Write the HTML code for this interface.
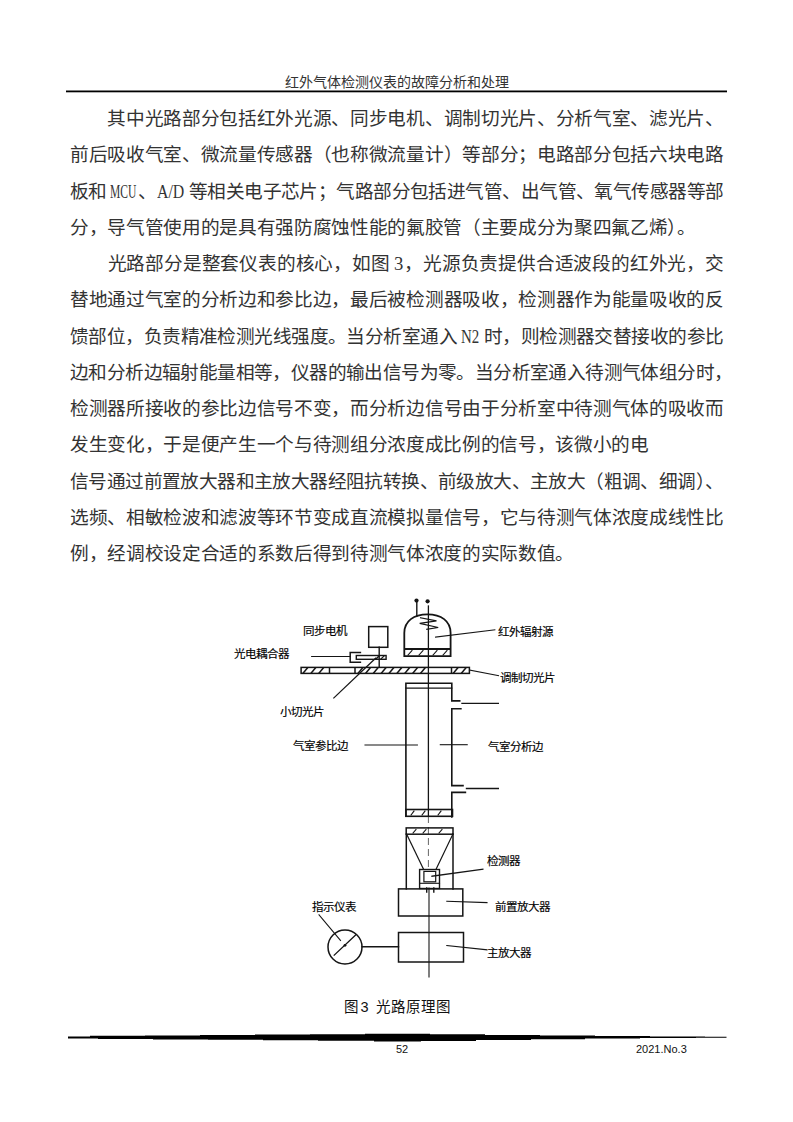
<!DOCTYPE html>
<html lang="zh-CN">
<head>
<meta charset="utf-8">
<style>
html,body{margin:0;padding:0;background:#fff;}
body{width:793px;height:1122px;position:relative;overflow:hidden;font-family:"Liberation Serif",serif;color:#111;}
.hd{position:absolute;color:#333;left:0;width:793px;top:72.5px;text-align:center;font-size:14px;line-height:20px;white-space:nowrap;}
.hl{position:absolute;left:66px;width:661px;top:90.5px;height:1.7px;background:#000;}
.ln{position:absolute;color:#333;left:70px;width:653px;font-size:18.67px;letter-spacing:-1px;line-height:24px;height:24px;white-space:nowrap;text-align:justify;text-align-last:justify;}
.ln.l{text-align:left;text-align-last:left;letter-spacing:-0.33px;}
.lat{display:inline-block;font-family:"Liberation Serif",serif;letter-spacing:0;vertical-align:baseline;text-align-last:left;}
.lat>span{display:inline-block;transform-origin:0 50%;}
.fl{position:absolute;font-size:11.5px;line-height:13px;white-space:nowrap;color:#000;-webkit-text-stroke:0.15px #000;}
.cap{position:absolute;top:998px;font-family:"Liberation Sans",sans-serif;font-size:14.5px;line-height:18px;white-space:nowrap;color:#111;}
.ft{position:absolute;font-family:"Liberation Sans",sans-serif;font-size:11px;line-height:13px;white-space:nowrap;color:#111;}
svg{position:absolute;left:0;top:0;}
</style>
</head>
<body>
<div class="hd">红外气体检测仪表的故障分析和处理</div>

<div class="ln" style="top:107.00px">　　其中光路部分包括红外光源、同步电机、调制切光片、分析气室、滤光片、</div>
<div class="ln" style="top:143.27px">前后吸收气室、微流量传感器（也称微流量计）等部分；电路部分包括六块电路</div>
<div class="ln" style="top:179.54px">板和<span class="lat" style="width:31px;padding-left:3px;box-sizing:border-box"><span style="transform:scaleX(.62)">MCU</span></span>、<span class="lat" style="width:28px"><span style="transform:scaleX(.85)">A/D</span></span> 等相关电子芯片；气路部分包括进气管、出气管、氧气传感器等部</div>
<div class="ln l" style="top:215.81px">分，导气管使用的是具有强防腐蚀性能的氟胶管（主要成分为聚四氟乙烯）。</div>
<div class="ln" style="top:252.08px">　　光路部分是整套仪表的核心，如图 <span class="lat" style="width:9.5px"><span>3</span></span>，光源负责提供合适波段的红外光，交</div>
<div class="ln" style="top:288.35px">替地通过气室的分析边和参比边，最后被检测器吸收，检测器作为能量吸收的反</div>
<div class="ln" style="top:324.62px">馈部位，负责精准检测光线强度。当分析室通入 <span class="lat" style="width:18.7px"><span style="transform:scaleX(.8)">N2</span></span> 时，则检测器交替接收的参比</div>
<div class="ln l" style="top:360.89px;letter-spacing:-0.6px">边和分析边辐射能量相等，仪器的输出信号为零。当分析室通入待测气体组分时，</div>
<div class="ln" style="top:397.16px">检测器所接收的参比边信号不变，而分析边信号由于分析室中待测气体的吸收而</div>
<div class="ln l" style="top:433.43px">发生变化，于是便产生一个与待测组分浓度成比例的信号，该微小的电</div>
<div class="ln" style="top:469.70px">信号通过前置放大器和主放大器经阻抗转换、前级放大、主放大（粗调、细调）、</div>
<div class="ln" style="top:505.97px">选频、相敏检波和滤波等环节变成直流模拟量信号，它与待测气体浓度成线性比</div>
<div class="ln l" style="top:542.24px">例，经调校设定合适的系数后得到待测气体浓度的实际数值。</div>

<svg width="793" height="1122" viewBox="0 0 793 1122" fill="none" stroke="#151515" stroke-width="1.4" stroke-linecap="square">
<rect x="66" y="90.5" width="661" height="1.8" fill="#000" stroke="none"/>
<!-- terminals -->
<circle cx="416.5" cy="600.6" r="2.1" fill="#151515" stroke="none"/>
<circle cx="427.6" cy="601.3" r="2.1" fill="#151515" stroke="none"/>
<line x1="416.8" y1="601" x2="416.8" y2="616"/>
<!-- axis -->
<line x1="428.4" y1="606" x2="428.4" y2="816" stroke-width="1.3"/>
<line x1="428.4" y1="816" x2="428.4" y2="869" stroke-dasharray="7 4" stroke-linecap="butt" stroke="#666" stroke-width="1"/>
<line x1="429" y1="888" x2="429" y2="977" stroke-width="1.1"/>
<!-- dome -->
<path d="M404.3,649 V633 C404.3,621 414,614.3 427.5,614.3 C441,614.3 450.6,621 450.6,633 V656.2 H404.3 V649 H450.6" stroke-width="1.8"/>
<polyline points="420.6,617.8 436.5,620.9 419.7,623.4 438.2,627.5 426.8,629.3" stroke-width="1.2"/>
<g stroke-width="1.1"><line x1="408" y1="655" x2="412" y2="650.5"/><line x1="419" y1="655" x2="423" y2="650.5"/><line x1="433" y1="655" x2="437" y2="650.5"/><line x1="443" y1="655" x2="447" y2="650.5"/></g>
<line x1="435.6" y1="637.2" x2="494.8" y2="629.8" stroke-width="1.2"/>
<!-- motor -->
<rect x="368.7" y="626.6" width="19.1" height="20.7" stroke-width="1.5"/>
<line x1="379.2" y1="647.3" x2="379.2" y2="667"/>
<!-- photocoupler -->
<path d="M360.4,652.5 H350.2 V662.3 H360.4" stroke-width="1.5"/>
<line x1="311.6" y1="656.5" x2="350.2" y2="656.5" stroke-width="1"/>
<rect x="356.3" y="655.5" width="29.8" height="3.8" stroke-width="1.4"/>
<line x1="376" y1="659" x2="379" y2="656" stroke-width="1.4"/>
<line x1="381" y1="659" x2="384" y2="656" stroke-width="1.2"/>
<line x1="375.6" y1="658.2" x2="333.8" y2="698" stroke-width="1.2"/>
<!-- chopper -->
<rect x="301.1" y="667.4" width="168.3" height="6" stroke-width="1.5"/>
<g stroke-width="1.5" stroke-linecap="butt">
<line x1="329.5" y1="667.4" x2="329.5" y2="673.4"/><line x1="355" y1="667.4" x2="355" y2="673.4"/><line x1="451.5" y1="667.4" x2="451.5" y2="673.4"/>
<line x1="302.8" y1="673.4" x2="307.8" y2="667.4"/><line x1="310.8" y1="673.4" x2="315.8" y2="667.4"/><line x1="318.7" y1="673.4" x2="323.7" y2="667.4"/>
<line x1="357.9" y1="673.4" x2="362.9" y2="667.4"/><line x1="365.5" y1="673.4" x2="370.5" y2="667.4"/><line x1="373.2" y1="673.4" x2="378.2" y2="667.4"/><line x1="381.1" y1="673.4" x2="386.1" y2="667.4"/><line x1="388.9" y1="673.4" x2="393.9" y2="667.4"/><line x1="396.8" y1="673.4" x2="401.8" y2="667.4"/><line x1="404.7" y1="673.4" x2="409.7" y2="667.4"/><line x1="412.6" y1="673.4" x2="417.6" y2="667.4"/><line x1="420.4" y1="673.4" x2="425.4" y2="667.4"/>
<line x1="453.1" y1="673.4" x2="458.1" y2="667.4"/><line x1="461.2" y1="673.4" x2="466.2" y2="667.4"/>
</g>
<line x1="469.5" y1="670" x2="498.5" y2="675.7" stroke-width="1.1"/>
<!-- gas chamber -->
<path d="M405.9,816.3 V683.3 H451.8 V700.9 H459.7" stroke-width="1.6"/>
<line x1="405.9" y1="688.2" x2="451.8" y2="688.2" stroke-width="1.2"/>
<line x1="462" y1="703.4" x2="498.3" y2="703.4" stroke-width="1.4"/>
<path d="M460.9,708.8 H451.8 V785.6 H463" stroke-width="1.6"/>
<line x1="466.5" y1="788.5" x2="498.3" y2="788.5" stroke-width="1.4"/>
<path d="M465.4,792.4 H451.8 V817" stroke-width="1.6"/>
<rect x="405.9" y="809.5" width="46.6" height="6.8" stroke-width="1.6"/>
<g stroke-width="1.1"><line x1="411" y1="815" x2="414" y2="811"/><line x1="422" y1="815" x2="425" y2="811"/><line x1="438" y1="815" x2="441" y2="811"/></g>
<line x1="365" y1="745" x2="417.4" y2="745" stroke-width="1.1"/>
<line x1="440.3" y1="744.7" x2="467.2" y2="744.7" stroke-width="1.1"/>
<!-- detector housing -->
<rect x="406.2" y="827.9" width="46.8" height="6.3" stroke-width="1.5"/>
<g stroke-width="1.1"><line x1="413" y1="833" x2="416" y2="829.5"/><line x1="423" y1="833" x2="426" y2="829.5"/><line x1="439" y1="833" x2="442" y2="829.5"/></g>
<line x1="406.3" y1="834" x2="406.3" y2="888.9" stroke-width="1.5"/>
<line x1="453" y1="834" x2="453" y2="888.9" stroke-width="1.5"/>
<line x1="406.8" y1="834.5" x2="423.4" y2="869" stroke-width="1.2"/>
<line x1="452.7" y1="834.5" x2="436.2" y2="869" stroke-width="1.2"/>
<rect x="419.6" y="869.5" width="19.9" height="19" stroke-width="1.4"/>
<rect x="423.9" y="871.4" width="11.8" height="10.4" stroke-width="1.2"/>
<line x1="419.6" y1="883.3" x2="439.5" y2="883.3" stroke-width="1.1"/>
<line x1="426.7" y1="888" x2="426.7" y2="892" stroke-width="1.4"/>
<line x1="433.8" y1="888" x2="433.8" y2="892" stroke-width="1.4"/>
<line x1="431.9" y1="876.2" x2="482.9" y2="869.3" stroke-width="1.2"/>
<!-- amps -->
<rect x="398.5" y="888.9" width="64.3" height="27.1" stroke-width="1.5"/>
<line x1="446.8" y1="901.2" x2="487" y2="902.6" stroke-width="1.1"/>
<rect x="398.5" y="932.5" width="65" height="29.5" stroke-width="1.5"/>
<line x1="446.8" y1="945.6" x2="487" y2="949.8" stroke-width="1.1"/>
<!-- meter -->
<circle cx="345" cy="947" r="17" stroke-width="1.5"/>
<line x1="334.2" y1="955.2" x2="355.7" y2="935" stroke-width="1.3"/>
<circle cx="345" cy="945.3" r="1.4" fill="#151515" stroke="none"/>
<line x1="362" y1="946.8" x2="398.5" y2="946.8" stroke-width="1.4"/>
<line x1="319" y1="914.8" x2="340.5" y2="940.5" stroke-width="1.1"/>
<!-- footer rule -->
<path d="M68,1036.6 L90,1036.6 L90,1035.7 L145,1035.7 L145,1035.4 L200,1035.4 L200,1035 L255,1035 L255,1034.6 L310,1034.6 L310,1034.2 L365,1034.2 L365,1033.7 L430,1033.7 L430,1034.2 L485,1034.2 L485,1035 L540,1035 L540,1035.6 L595,1035.6 L595,1036.1 L650,1036.1 L650,1036.4 L705,1036.4 L705,1036.7 L726.5,1036.7 L726.5,1037.8 L696,1037.8 L696,1038.1 L640,1038.1 L640,1038.6 L585,1038.6 L585,1039.2 L531,1039.2 L531,1040 L476,1040 L476,1040.9 L421,1040.9 L421,1041.5 L374,1041.5 L374,1040.8 L318,1040.8 L318,1040.3 L263,1040.3 L263,1039.8 L208,1039.8 L208,1039.4 L153,1039.4 L153,1039 L98,1039 L98,1038.4 L68,1038.4 Z" fill="#000" stroke="none"/>
</svg>

<div class="fl" style="left:303px;top:624.5px">同步电机</div>
<div class="fl" style="left:234px;top:647.5px">光电耦合器</div>
<div class="fl" style="left:498px;top:625.5px">红外辐射源</div>
<div class="fl" style="left:500px;top:671.5px">调制切光片</div>
<div class="fl" style="left:280px;top:705.5px">小切光片</div>
<div class="fl" style="left:293px;top:740px">气室参比边</div>
<div class="fl" style="left:488px;top:740.5px">气室分析边</div>
<div class="fl" style="left:487px;top:855px">检测器</div>
<div class="fl" style="left:495px;top:900.5px">前置放大器</div>
<div class="fl" style="left:311.5px;top:901px">指示仪表</div>
<div class="fl" style="left:487px;top:946.5px">主放大器</div>
<div class="cap" style="left:343.5px">图</div><div class="cap" style="left:360.5px">3</div><div class="cap" style="left:375.5px;letter-spacing:1.15px">光路原理图</div>
<div class="ft" style="left:396px;top:1043px">52</div>
<div class="ft" style="left:636px;top:1043px">2021.No.3</div>
</body>
</html>
